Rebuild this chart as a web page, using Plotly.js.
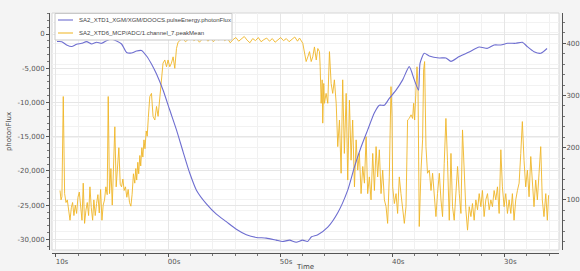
<!DOCTYPE html>
<html>
<head>
<meta charset="utf-8">
<script src="https://cdn.plot.ly/plotly-3.0.1.min.js"></script>
<style>html,body{margin:0;padding:0;background:#f4f4f4;}#chart{width:580px;height:271px;}</style>
</head>
<body>
<div id="chart"></div>
<script>
// ---- data (time in seconds from the "10s" tick) ----
const seriesNames = ['SA2_XTD1_XGM/XGM/DOOCS.pulseEnergy.photonFlux', 'SA2_XTD6_MCP/ADC/1.channel_7.peakMean'];
const xTickVals = [0, 10, 20, 30, 40];
const xTickText = ['10s', '00s', '50s', '40s', '30s'];
const yLeftTickVals = [0, -5000, -10000, -15000, -20000, -25000, -30000];
const yLeftTickText = ['0', '-5,000', '-10,000', '-15,000', '-20,000', '-25,000', '-30,000'];
const yRightTickVals = [100, 200, 300, 400];
const yRightTickText = ['100', '200', '300', '400'];

const fluxT = [0.09,0.51,0.95,1.40,1.84,2.29,2.73,3.18,3.62,4.07,4.51,4.96,5.41,5.85,6.30,6.74,7.19,7.63,8.08,8.52,8.97,9.55,10.15,10.75,11.34,11.93,12.53,13.42,14.31,15.20,16.09,16.98,17.87,18.76,19.65,20.21,20.84,21.43,22.00,22.44,22.80,23.36,24.25,25.14,26.03,26.63,27.22,27.81,28.41,28.85,29.30,29.74,30.34,30.93,31.52,31.97,32.35,32.48,32.86,33.30,34.19,34.79,35.24,35.98,36.87,37.76,38.50,39.09,39.69,40.28,41.02,41.61,42.06,42.65,43.25,43.81];
const fluxV = [-1100,-1120,-1600,-1830,-1500,-1360,-1120,-1460,-1210,-1360,-980,-770,-1020,-1460,-2700,-2770,-2480,-2410,-3210,-4380,-5840,-8180,-11100,-14000,-17200,-20300,-22800,-24800,-26300,-27400,-28500,-29300,-29700,-29800,-30100,-30300,-30100,-30400,-30100,-30300,-29600,-29300,-28200,-26100,-22800,-19400,-16500,-14000,-11500,-10400,-10400,-9400,-8200,-6700,-4770,-6700,-8200,-4280,-2820,-3200,-3500,-3500,-4000,-3300,-2630,-1900,-2090,-1600,-1600,-1360,-1360,-1210,-1850,-2580,-2820,-2120];

const peakT = [0.36,0.45,0.53,0.65,0.77,0.89,1.01,1.13,1.25,1.37,1.48,1.60,1.72,1.84,1.96,2.08,2.20,2.32,2.43,2.55,2.67,2.79,2.91,3.03,3.15,3.27,3.38,3.50,3.62,3.74,3.86,3.98,4.10,4.21,4.33,4.45,4.57,4.66,4.78,4.90,5.02,5.14,5.25,5.37,5.49,5.61,5.73,5.85,5.97,6.08,6.20,6.32,6.44,6.56,6.68,6.79,6.91,
7.03,7.12,7.20,7.30,7.38,7.48,7.56,7.66,7.75,7.85,7.94,8.05,8.14,8.24,8.37,8.52,8.66,8.82,8.97,9.11,9.26,9.41,9.55,9.71,9.86,10.00,10.15,10.30,10.45,10.60,10.75,10.89,
11.05,11.30,11.55,11.80,12.05,12.30,12.55,12.80,13.05,13.30,13.55,13.80,14.05,14.30,14.55,14.80,15.05,15.30,15.55,15.80,16.05,16.30,16.55,16.80,17.05,17.30,17.55,17.80,18.05,18.30,18.55,18.80,19.05,19.30,19.55,19.80,20.05,20.30,20.55,20.80,21.05,21.30,21.55,
21.73,22.02,22.17,22.32,22.47,22.62,22.77,22.91,23.06,23.22,23.36,23.51,23.57,23.66,23.75,23.80,23.89,23.95,24.10,24.25,24.40,24.55,24.69,24.84,25.00,25.14,25.29,25.44,25.58,25.73,25.89,26.03,26.18,26.33,26.47,26.63,26.78,26.92,27.07,27.22,27.37,27.52,27.67,27.81,27.96,28.11,28.26,28.41,28.56,28.70,28.85,29.00,29.15,29.30,29.45,29.59,29.74,29.89,29.98,30.04,30.19,30.34,30.48,30.63,30.78,30.93,31.08,31.23,31.37,31.52,31.68,31.82,31.91,32.00,32.12,32.21,32.30,32.41,32.57,32.71,32.80,32.89,33.01,33.15,33.31,33.46,33.60,33.75,33.90,34.04,34.20,34.35,34.49,34.64,34.79,34.93,35.09,35.24,35.38,35.53,35.68,35.83,35.98,36.13,36.27,36.42,36.57,36.72,36.87,37.02,37.16,37.31,37.46,37.61,37.76,37.91,38.05,38.20,38.35,38.50,38.65,38.80,38.94,39.09,39.24,39.39,39.54,39.69,39.83,39.98,40.13,40.28,40.43,40.58,40.72,40.87,41.02,41.17,41.32,41.47,41.61,41.76,41.91,42.06,42.21,42.36,42.50,42.65,42.80,42.95,43.10,43.25,43.39,43.54,43.70,43.84,43.95];
const peakV = [118,100,106,298,112,95,100,78,61,85,95,70,90,74,105,115,80,61,132,55,80,95,70,125,85,61,100,70,93,110,75,120,61,90,100,125,110,298,112,160,90,170,240,125,160,200,130,125,140,118,125,105,120,95,88,110,150,
132,160,138,172,150,185,165,200,182,215,198,232,222,258,298,304,260,253,279,260,298,336,362,368,355,368,355,362,374,352,390,402,
405,410,403,408,412,405,409,402,408,411,404,409,403,410,406,412,405,409,401,407,411,404,409,413,406,401,409,405,411,403,407,410,404,409,402,407,411,405,409,403,407,412,404,
410,400,381,365,374,384,365,374,393,368,390,384,355,285,330,247,323,285,304,285,384,323,304,330,285,202,253,151,330,189,304,138,291,176,253,125,215,157,189,112,164,132,221,112,144,100,189,118,202,144,196,112,157,100,87,55,144,317,260,125,93,112,74,144,112,87,55,87,253,256,263,256,285,253,330,355,317,49,157,215,349,365,202,151,157,118,151,100,68,112,151,100,68,170,256,176,61,189,87,61,125,164,112,74,234,138,81,42,87,68,93,61,100,81,112,87,118,68,100,112,81,100,87,118,100,125,74,196,125,87,112,74,100,74,112,61,100,118,132,189,250,176,125,157,106,183,125,87,138,100,151,202,100,68,112,61,109];

// ---- layout helpers (pixel -> paper) ----
const W = 580, H = 271, ML = 49, MR = 18, MT = 13, MB = 18;
const PW = W - ML - MR, PH = H - MT - MB;
const px = v => (v - ML) / PW;
const py = v => (H - MB - v) / PH;

const traces = [
  {x: peakT, y: peakV, type: 'scatter', mode: 'lines', name: seriesNames[1], yaxis: 'y',
   line: {color: 'rgba(240,182,40,0.9)', width: 1}, hoverinfo: 'skip'},
  {x: fluxT, y: fluxV, type: 'scatter', mode: 'lines', name: seriesNames[0], yaxis: 'y2',
   line: {color: '#6e6ed0', width: 1.1, shape: 'spline', smoothing: 0.6}, hoverinfo: 'skip'}
];

const axFont = {family: 'DejaVu Sans, sans-serif', size: 7, color: '#555'};
const legFont = {family: 'Liberation Sans, Arial, sans-serif', size: 6, color: '#444'};
const layout = {
  width: W, height: H,
  margin: {l: ML, r: MR, t: MT, b: MB, pad: 0},
  paper_bgcolor: '#f4f4f4', plot_bgcolor: '#ffffff',
  font: axFont, showlegend: false,
  xaxis: {
    domain: [px(52), px(559)], range: [-0.356, 44.88], anchor: 'free', position: 0,
    tickmode: 'array', tickvals: xTickVals, ticktext: xTickText, ticklabelshift: 6, ticklabelstandoff: -1,
    ticks: 'outside', ticklen: 3, tickcolor: '#555', showline: true, linecolor: '#555', linewidth: 1,
    showgrid: true, gridcolor: '#e6e6e6', zeroline: false, tickfont: axFont,
    minor: {dtick: 2, tick0: 0, ticks: 'outside', ticklen: 2, tickcolor: '#777', showgrid: true, gridcolor: '#f1f1f1'},
    title: {text: 'Time', font: {family: 'DejaVu Sans, sans-serif', size: 7, color: '#444'}, standoff: 0}
  },
  yaxis: {
    domain: [py(250), 1], range: [4, 458], side: 'right', anchor: 'free', position: 1,
    tickmode: 'array', tickvals: yRightTickVals, ticktext: yRightTickText, ticklabelstandoff: -1,
    ticks: 'outside', ticklen: 3, tickcolor: '#555', showline: true, linecolor: '#555', linewidth: 1,
    showgrid: false, zeroline: false, tickfont: axFont,
    minor: {dtick: 20, tick0: 0, ticks: 'outside', ticklen: 2, tickcolor: '#777', showgrid: true, gridcolor: '#f2f2f2'}
  },
  yaxis2: {
    overlaying: 'y', domain: [py(250), 1], range: [-31536, 3066], side: 'left', anchor: 'free', position: 0,
    tickmode: 'array', tickvals: yLeftTickVals, ticktext: yLeftTickText,
    ticks: 'outside', ticklen: 3, tickcolor: '#555', showline: true, linecolor: '#555', linewidth: 1,
    showgrid: true, gridcolor: '#e6e6e6', zeroline: false, tickfont: axFont,
    minor: {dtick: 1000, tick0: 0, ticks: 'outside', ticklen: 2, tickcolor: '#777', showgrid: false},
    title: {text: 'photonFlux', font: {family: 'DejaVu Sans, sans-serif', size: 7, color: '#444'}, standoff: 4}
  },
  shapes: [
    {type: 'rect', xref: 'paper', yref: 'paper', x0: px(52), x1: px(559), y0: py(250), y1: 1,
     line: {color: '#d6d6d6', width: 1}, fillcolor: 'rgba(0,0,0,0)', layer: 'below'},
    {type: 'rect', xref: 'paper', yref: 'paper', x0: px(55), x1: px(232), y0: py(40), y1: py(13.5),
     line: {color: '#c8c8c8', width: 1}, fillcolor: '#ffffff', layer: 'above'},
    {type: 'line', xref: 'paper', yref: 'paper', x0: px(58), x1: px(73), y0: py(20), y1: py(20),
     line: {color: '#6e6ed0', width: 1.1}, layer: 'above'},
    {type: 'line', xref: 'paper', yref: 'paper', x0: px(58), x1: px(73), y0: py(33), y1: py(33),
     line: {color: 'rgba(240,182,40,0.95)', width: 1.1}, layer: 'above'}
  ],
  annotations: [
    {xref: 'paper', yref: 'paper', x: px(77), y: py(20), xanchor: 'left', yanchor: 'middle', showarrow: false,
     text: seriesNames[0], font: legFont},
    {xref: 'paper', yref: 'paper', x: px(77), y: py(33), xanchor: 'left', yanchor: 'middle', showarrow: false,
     text: seriesNames[1], font: legFont}
  ]
};

Plotly.newPlot('chart', traces, layout, {staticPlot: true, displayModeBar: false});
</script>
</body>
</html>
